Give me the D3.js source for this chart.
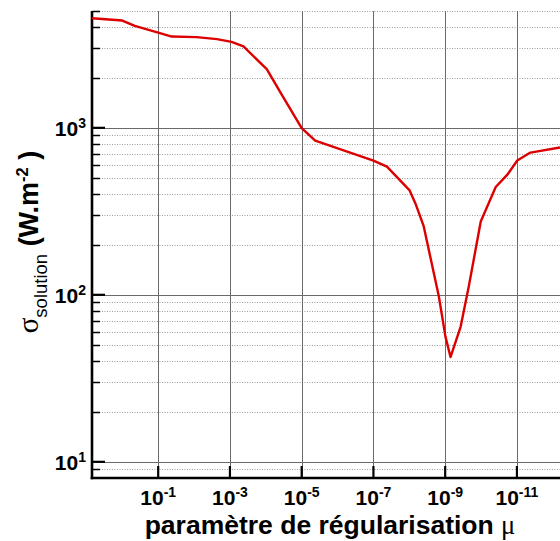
<!DOCTYPE html>
<html>
<head>
<meta charset="utf-8">
<script src="https://cdn.jsdelivr.net/npm/d3@7"></script>
<style>
  body { margin: 0; background: #fff; }
  text { font-family: "Liberation Sans", Arial, sans-serif; }
</style>
</head>
<body>
<svg id="chart" width="560" height="541"></svg>
<script>
// Regularisation parameter mu and the resulting solution standard deviation
const mu = [7, 1, 0.45, 0.1, 0.042, 0.0085, 0.0023, 9e-4, 4.2e-4, 9.4e-5, 4e-5, 1e-5,
            4.2e-6, 1e-7, 4.2e-8, 9.8e-9, 6.8e-9, 4e-9, 1.5e-9, 9.8e-10, 7.1e-10,
            3.7e-10, 2.2e-10, 1.02e-10, 3.9e-11, 1.85e-11, 9.8e-12, 4.2e-12, 6.3e-13];
const sigma = [4530, 4390, 4080, 3720, 3520, 3490, 3400, 3270, 3070, 2245, 1640, 996,
               839, 637, 586, 422, 354, 259, 97.8, 56, 42.4,
               64.6, 112, 275, 442, 524, 637, 711, 762];

// Axis ticks (powers of ten)
const xTickExp = [-1, -3, -5, -7, -9, -11];
const yTickExp = [1, 2, 3];
const yMinorMult = [2, 3, 4, 5, 6, 7, 8, 9];

const X0 = 92, X1 = 560, Y0 = 478, Y1 = 11.1;

const svg = d3.select("#chart");
const x = d3.scaleLog().domain([7, 6.3e-13]).range([X0, X1]);
const y = d3.scaleLog().domain([8, 5000]).range([Y0, Y1]);

const crisp = v => Math.round(v) + 0.5;

// minor horizontal grid values
const yMinor = [];
for (let e = 0; e <= 3; e++) {
  yMinorMult.forEach(m => {
    const v = m * Math.pow(10, e);
    if (v > 8 && v <= 5000) yMinor.push(v);
  });
}

const grid = svg.append("g");
grid.selectAll("line.minor").data(yMinor).join("line")
  .attr("x1", X0).attr("x2", X1)
  .attr("y1", d => crisp(y(d))).attr("y2", d => crisp(y(d)))
  .attr("stroke", "#9a9a9a").attr("stroke-width", 1)
  .attr("stroke-dasharray", "1,1.5");

grid.selectAll("line.ymaj").data(yTickExp).join("line")
  .attr("x1", X0).attr("x2", X1)
  .attr("y1", d => crisp(y(Math.pow(10, d)))).attr("y2", d => crisp(y(Math.pow(10, d))))
  .attr("stroke", "#6a6a6a").attr("stroke-width", 1);

grid.selectAll("line.xmaj").data(xTickExp).join("line")
  .attr("x1", d => crisp(x(Math.pow(10, d)))).attr("x2", d => crisp(x(Math.pow(10, d))))
  .attr("y1", Y1).attr("y2", Y0)
  .attr("stroke", "#6a6a6a").attr("stroke-width", 1);

// ticks
const ticks = svg.append("g").attr("stroke", "#000");
ticks.selectAll("line.ymin").data(yMinor).join("line")
  .attr("x1", X0).attr("x2", X0 + 8)
  .attr("y1", d => crisp(y(d))).attr("y2", d => crisp(y(d)))
  .attr("stroke-width", 1.5);
ticks.selectAll("line.ymaj").data(yTickExp).join("line")
  .attr("x1", X0).attr("x2", X0 + 13)
  .attr("y1", d => y(Math.pow(10, d))).attr("y2", d => y(Math.pow(10, d)))
  .attr("stroke-width", 2.2);
ticks.selectAll("line.xmaj").data(xTickExp).join("line")
  .attr("x1", d => x(Math.pow(10, d))).attr("x2", d => x(Math.pow(10, d)))
  .attr("y1", Y0).attr("y2", Y0 - 12)
  .attr("stroke-width", 2.2);

// axis lines
svg.append("line").attr("x1", X0).attr("x2", X0).attr("y1", Y1).attr("y2", Y0 + 1.2)
  .attr("stroke", "#000").attr("stroke-width", 2.6);
svg.append("line").attr("x1", X0 - 1.3).attr("x2", X1).attr("y1", Y0).attr("y2", Y0)
  .attr("stroke", "#000").attr("stroke-width", 2.6);

// curve
svg.append("clipPath").attr("id", "plot")
  .append("rect").attr("x", X0).attr("y", Y1 - 5).attr("width", X1 - X0).attr("height", Y0 - Y1 + 5);
const pts = mu.map((m, i) => [m, sigma[i]]);
svg.append("path")
  .attr("clip-path", "url(#plot)")
  .attr("d", d3.line().x(d => x(d[0])).y(d => y(d[1]))(pts))
  .attr("fill", "none").attr("stroke", "#dd0000")
  .attr("stroke-width", 2.4).attr("stroke-linejoin", "round");

// tick labels: "10" followed by a raised exponent, as two text pieces
const BASE = 21, EXP = 14;
function powerLabel(g, e, anchorX, baseY, align) {
  const b = g.append("text").attr("font-size", BASE).attr("font-weight", "bold")
    .attr("y", baseY).text("10");
  const p = g.append("text").attr("font-size", EXP).attr("font-weight", "bold")
    .attr("y", baseY - 8).text(e);
  const wb = b.node().getComputedTextLength();
  const wp = p.node().getComputedTextLength();
  const start = align === "middle" ? anchorX - (wb + wp) / 2 : anchorX - (wb + wp);
  b.attr("x", start);
  p.attr("x", start + wb);
}
const xl = svg.append("g");
xTickExp.forEach(e => powerLabel(xl, e, x(Math.pow(10, e)), 505, "middle"));
const yl = svg.append("g");
yTickExp.forEach(e => powerLabel(yl, e, 86, y(Math.pow(10, e)) + 8, "end"));

// axis titles
const xt = svg.append("text")
  .attr("x", 330).attr("y", 533.5)
  .attr("text-anchor", "middle")
  .attr("font-size", 26.5).attr("font-weight", "bold");
xt.append("tspan").text("paramètre de régularisation ");
xt.append("tspan").attr("font-family", "'Liberation Serif', serif").attr("font-weight", "normal").text("μ");

const yt = svg.append("text")
  .attr("transform", "translate(38,242) rotate(-90)")
  .attr("text-anchor", "middle")
  .attr("font-size", 27).attr("font-weight", "bold");
yt.append("tspan").attr("font-family", "'Liberation Serif', serif").attr("font-weight", "normal")
  .attr("font-size", 29).text("σ");
yt.append("tspan").attr("font-size", 18.5).attr("font-weight", "normal").attr("dy", 9).text("solution");
yt.append("tspan").attr("dy", -9).text(" (W.m");
yt.append("tspan").attr("font-size", 16.5).attr("dy", -10).text("-2");
yt.append("tspan").attr("dy", 10).text(" )");
</script>
</body>
</html>
